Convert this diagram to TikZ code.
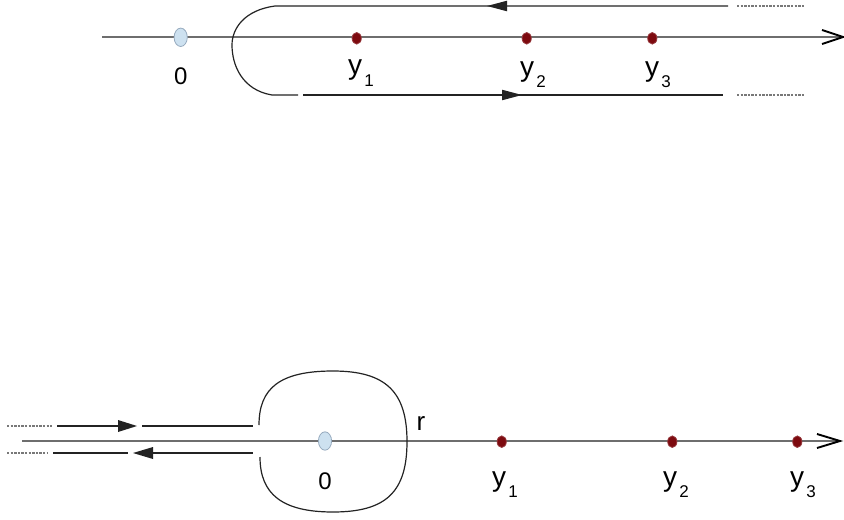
\documentclass[tikz,border=0pt]{standalone}
\usepackage{fontspec}
\setmainfont{Liberation Sans}
\usetikzlibrary{shapes.geometric}
\definecolor{axisgray}{RGB}{110,110,110}
\definecolor{pathgray}{RGB}{35,35,35}
\definecolor{tailgray}{RGB}{120,120,120}
\definecolor{zeroblue}{RGB}{205,225,240}
\definecolor{zeroedge}{RGB}{150,170,190}
\definecolor{poledark}{RGB}{125,10,15}
\newcommand{\ylab}[1]{y\rlap{\hspace{1.2pt}\raisebox{-5.8pt}{\fontsize{8.5}{9}\selectfont #1}}}

\begin{document}
\begin{tikzpicture}[x=0.5pt,y=0.5pt]
\tikzstyle{every node}+=[inner sep=0pt]
\tikzstyle{zero}=[draw=zeroedge,fill=zeroblue,ellipse,minimum width=6.6pt,minimum height=9.2pt]
\tikzstyle{pole}=[draw=poledark!80,fill=poledark,ellipse,minimum width=4.6pt,minimum height=5.8pt]
\tikzstyle{lab}=[font=\fontsize{14}{16}\selectfont,anchor=base]
\tikzstyle{zlab}=[font=\fontsize{12}{14}\selectfont]
\tikzstyle{axis}=[axisgray,line width=0.75pt]
\tikzstyle{contour}=[pathgray,line width=0.6pt]
\tikzstyle{tail}=[tailgray,line width=0.6pt,dash pattern=on 1.2pt off 0.6pt]
\useasboundingbox (0,0) rectangle (844,-519);
% upper picture
\coordinate (a0) at (102,-37);
\coordinate (a1) at (843,-37);
\draw [axis] (a0) -- (a1);
\draw [black,line width=0.95pt] (a1) ++(-21,7) -- (a1) -- ++(-21,-7);
\node [zero] (z0) at (180.7,-37.3) {};
\node [pole] (p1) at (356.7,-38.3) {};
\node [pole] (p2) at (526.7,-38.3) {};
\node [pole] (p3) at (652.3,-38.3) {};
\node [zlab] (l0) at (180.7,-76) {0};
\node [lab] (l1) at (355,-75) {\ylab{1}};
\node [lab] (l2) at (527,-76) {\ylab{2}};
\node [lab] (l3) at (652,-76) {\ylab{3}};
\coordinate (c0) at (728,-6);
\coordinate (c1) at (275,-6);
\coordinate (c2) at (298,-95);
\coordinate (c3) at (303,-95);
\coordinate (c4) at (723,-95);
\draw [contour] (c0) -- (c1) .. controls (245,-10) and (232,-28) .. (232,-45) .. controls (232,-65) and (242,-90) .. (272,-95) -- (c2);
\draw [contour] (c3) -- (c4);
\coordinate (t0) at (487,-6);
\fill [pathgray] (t0) -- ++(20,5.3) -- ++(0,-10.6) -- cycle;
\coordinate (t1) at (522,-95);
\fill [pathgray] (t1) -- ++(-20,5.3) -- ++(0,-10.6) -- cycle;
\coordinate (d0) at (737,-6);
\coordinate (d1) at (805,-6);
\coordinate (d2) at (737,-95);
\coordinate (d3) at (805,-95);
\draw [tail] (d0) -- (d1);
\draw [tail] (d2) -- (d3);
% lower picture
\coordinate (b0) at (22,-441);
\coordinate (b1) at (840,-441);
\draw [axis] (b0) -- (b1);
\draw [black,line width=0.95pt] (b1) ++(-23,7) -- (b1) -- ++(-23,-7);
\node [zero] (z1) at (325,-441) {};
\node [pole] (q1) at (501.7,-441.7) {};
\node [pole] (q2) at (672.3,-441.7) {};
\node [pole] (q3) at (797.3,-441.7) {};
\node [zlab] (m0) at (325,-481) {0};
\node [lab] (m1) at (499,-486) {\ylab{1}};
\node [lab] (m2) at (670,-486) {\ylab{2}};
\node [lab] (m3) at (797,-486) {\ylab{3}};
\node [lab,font=\fontsize{13}{15}\selectfont] (mr) at (421,-430.7) {r};
\coordinate (k0) at (259,-425);
\coordinate (k1) at (260,-457);
\draw [contour] (k0) .. controls (259,-388) and (280,-371) .. (333,-371)
  .. controls (386,-371) and (407,-392) .. (407,-441.5)
  .. controls (407,-492) and (386,-512) .. (333,-512)
  .. controls (282,-512) and (260,-494) .. (k1);
\coordinate (e0) at (7,-426);
\coordinate (e1) at (52,-426);
\coordinate (e2) at (57,-426);
\coordinate (e3) at (118,-426);
\coordinate (e4) at (142,-426);
\coordinate (e5) at (253,-426);
\draw [tail] (e0) -- (e1);
\draw [contour] (e2) -- (e3);
\fill [pathgray] (e3) ++(19,0) -- ++(-19,6) -- ++(0,-12) -- cycle;
\draw [contour] (e4) -- (e5);
\coordinate (f0) at (7,-453);
\coordinate (f1) at (47,-453);
\coordinate (f2) at (53,-453);
\coordinate (f3) at (128,-453);
\coordinate (f4) at (153,-453);
\coordinate (f5) at (253,-453);
\draw [tail] (f0) -- (f1);
\draw [contour] (f2) -- (f3);
\fill [pathgray] (f4) ++(-20,0) -- ++(20,6) -- ++(0,-12) -- cycle;
\draw [contour] (f4) -- (f5);
\end{tikzpicture}
\end{document}
